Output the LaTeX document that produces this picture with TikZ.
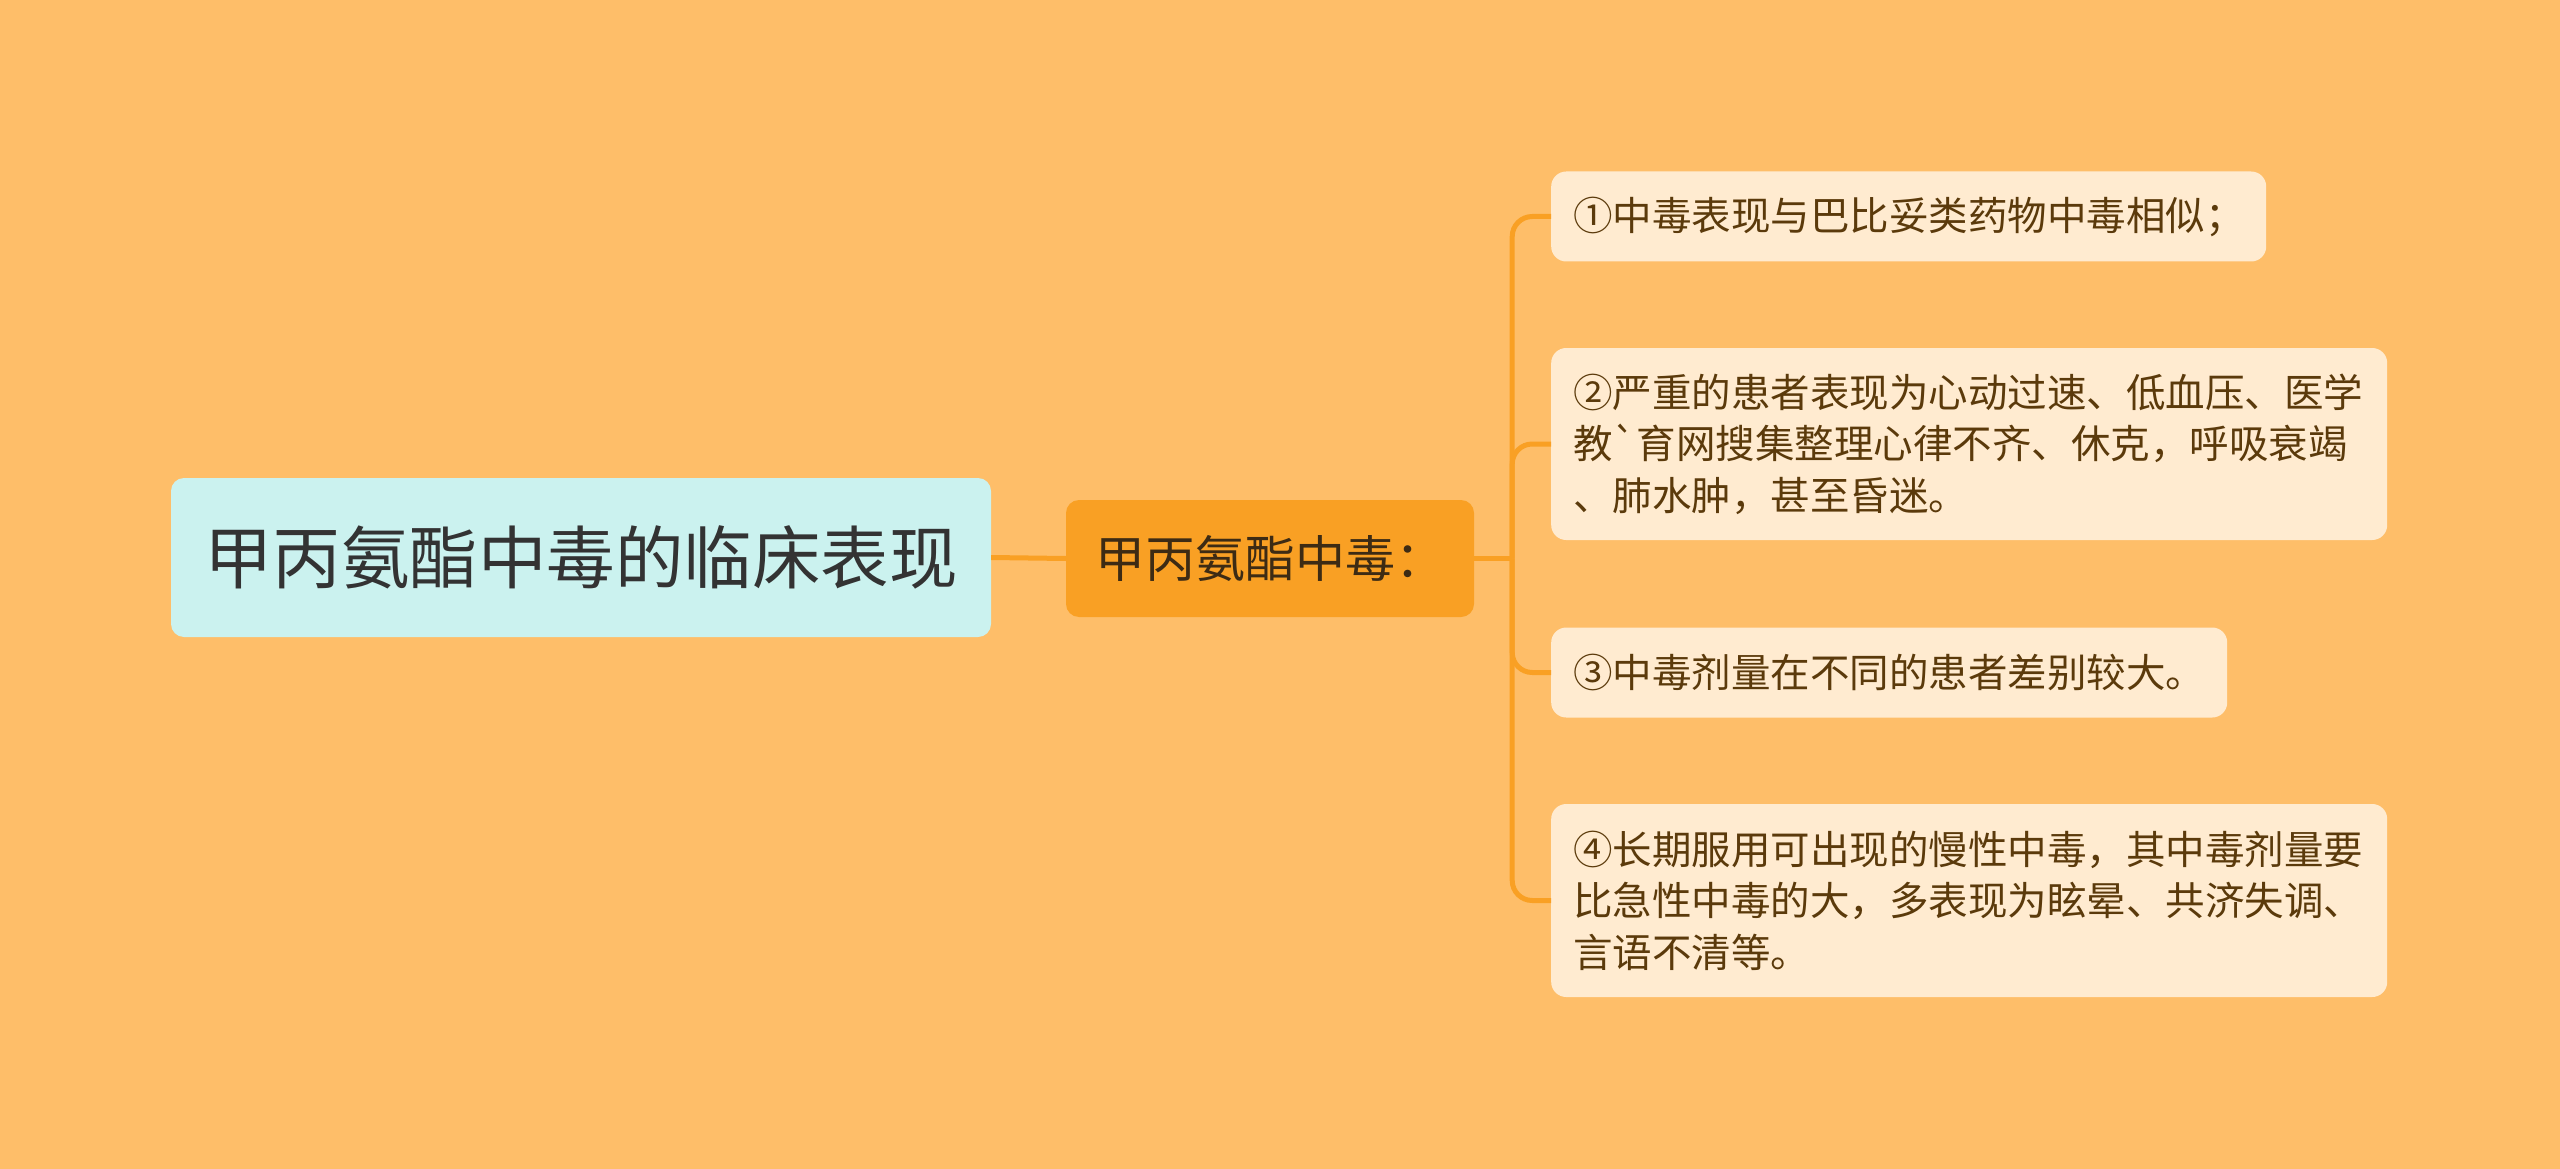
\documentclass[tikz,border=0pt]{standalone}
\usepackage{fontspec}
\setmainfont{Noto Sans CJK SC}[Ligatures=TeXOff]
\usetikzlibrary{calc}
\definecolor{bgc}{HTML}{FEBE69}
\definecolor{rootfill}{HTML}{CBF2EF}
\definecolor{midfill}{HTML}{F9A024}
\definecolor{leaffill}{HTML}{FFEBD0}
\definecolor{linec}{HTML}{F9A024}
\definecolor{roottext}{HTML}{333333}
\definecolor{midtext}{HTML}{3D2B14}
\definecolor{leaftext}{HTML}{5B3A0B}
\tikzset{
  rootbox/.style={fill=rootfill, rounded corners=13pt, minimum width=820pt, minimum height=159pt,
    inner sep=0pt, text=roottext, font=\fontsize{68.5}{74}\selectfont},
  midbox/.style={fill=midfill, rounded corners=13pt, minimum width=408pt, minimum height=117pt,
    inner sep=0pt, text=midtext, font=\fontsize{50}{56}\selectfont},
  leafbox/.style={fill=leaffill, rounded corners=15pt, anchor=west, inner xsep=22pt, inner ysep=0pt,
    align=left, text=leaftext, font=\fontsize{39.5}{51.5}\selectfont},
  conn/.style={draw=linec, line width=5pt},
}
\begin{document}
\begin{tikzpicture}[x=1pt,y=-1pt]
\useasboundingbox (0,0) rectangle (2560,1169);
\fill[bgc] (0,0) rectangle (2560,1169);

\node[rootbox] (root) at (581,557.5) {甲丙氨酯中毒的临床表现};
\node[midbox] (mid) at (1270,558.5) {甲丙氨酯中毒：};

\node[leafbox, text width=671pt, minimum height=90pt] (l1) at (1551,216.5)
  {①中毒表现与巴比妥类药物中毒相似；};
\node[leafbox, text width=792pt, minimum height=192pt] (l2) at (1551,444)
  {②严重的患者表现为心动过速、低血压、医学\\教`育网搜集整理心律不齐、休克，呼吸衰竭\\、肺水肿，甚至昏迷。};
\node[leafbox, text width=632pt, minimum height=90pt] (l3) at (1551,672.5)
  {③中毒剂量在不同的患者差别较大。};
\node[leafbox, text width=792pt, minimum height=193pt] (l4) at (1551,900.5)
  {④长期服用可出现的慢性中毒，其中毒剂量要\\比急性中毒的大，多表现为眩晕、共济失调、\\言语不清等。};

\coordinate (fork) at ($(mid.east)+(38,0)$);
\draw[conn] (root.east) -- (mid.west);
\draw[conn] (mid.east) -- (fork);
\foreach \l in {l1,l2,l3,l4}
  \draw[conn, rounded corners=20pt] (fork) |- (\l.west);
\end{tikzpicture}
\end{document}
